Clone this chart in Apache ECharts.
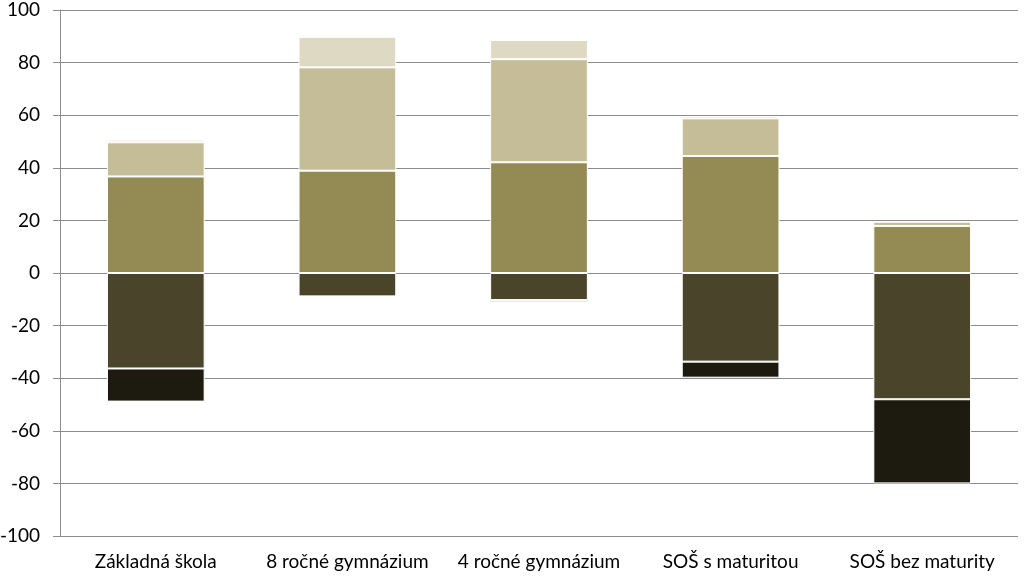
<!DOCTYPE html>
<html>
<head>
<meta charset="utf-8">
<script src="https://cdn.jsdelivr.net/npm/echarts@6/dist/echarts.min.js"></script>
<style>
html,body{margin:0;padding:0;background:#fff;}
#chart{width:1024px;height:577px;}
</style>
</head>
<body>
<div id="chart"></div>
<script>
const categories = ['Základná škola', '8 ročné gymnázium', '4 ročné gymnázium', 'SOŠ s maturitou', 'SOŠ bez maturity'];
const olive = [36.7, 38.9, 42.1, 44.5, 17.9];
const light = [13.0, 39.3, 39.2, 14.3, 1.6];
const veryLight = [1.0, 11.6, 7.3, 0.9, 0.0];
const dark = [-36.3, -8.9, -10.3, -33.7, -48.0];
const darkest = [-12.6, 0.0, -0.6, -6.1, -32.0];
const yTicks = [-100, -80, -60, -40, -20, 0, 20, 40, 60, 80, 100];

const chart = echarts.init(document.getElementById('chart'));
function s(name, data, color) {
  return {
    name: name, type: 'bar', stack: 'a', data: data, barWidth: '51%',
    itemStyle: { color: color, borderColor: '#ffffff', borderWidth: 1 },
    emphasis: { disabled: true }
  };
}
chart.setOption({
  animation: false,
  grid: { left: 60, right: 6, top: 10, bottom: 41, containLabel: false, outerBoundsMode: 'none' },
  xAxis: {
    type: 'category', data: categories,
    axisLine: { show: false }, axisTick: { show: false },
    axisLabel: { color: '#000', fontSize: 19, interval: 0, hideOverlap: false, fontFamily: 'Lato, "Open Sans", sans-serif', margin: 16 }
  },
  yAxis: {
    type: 'value', min: yTicks[0], max: yTicks[yTicks.length - 1], interval: 20,
    axisLine: { show: true, lineStyle: { color: '#8c8c8c', width: 1 } },
    axisTick: { show: true, length: 7, lineStyle: { color: '#8c8c8c' } },
    splitLine: { show: true, lineStyle: { color: '#8c8c8c', width: 1 } },
    axisLabel: { color: '#000', fontSize: 19, fontFamily: 'Lato, "Open Sans", sans-serif', margin: 20 }
  },
  series: [
    s('olive', olive, '#948A54'),
    s('light', light, '#C4BD97'),
    s('veryLight', veryLight, '#DDD9C3'),
    s('dark', dark, '#4A452A'),
    s('darkest', darkest, '#1D1B10')
  ]
});
</script>
</body>
</html>
